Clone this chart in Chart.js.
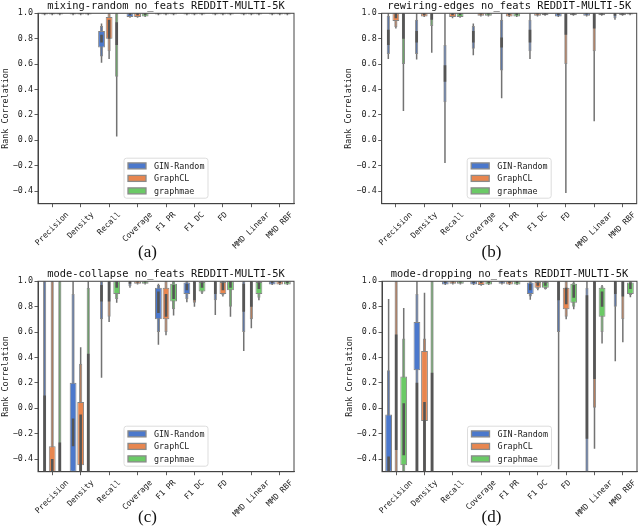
<!DOCTYPE html>
<html><head><meta charset="utf-8">
<script src="https://cdn.jsdelivr.net/npm/chart.js@4.4.1/dist/chart.umd.min.js"></script>
<style>
html,body{margin:0;padding:0;background:#fff;width:640px;height:529px;overflow:hidden;position:relative}
canvas{position:absolute}
.cap{position:absolute;font-family:'Liberation Serif','DejaVu Serif',serif;font-size:17px;color:#111;transform:translate(-50%,-50%);white-space:nowrap}
</style></head><body>
<canvas id="ca" width="320" height="261" style="left:0;top:0"></canvas>
<canvas id="cb" width="320" height="261" style="left:320px;top:0"></canvas>
<canvas id="cc" width="320" height="261" style="left:0;top:268px"></canvas>
<canvas id="cd" width="320" height="261" style="left:320px;top:268px"></canvas>
<div class="cap" style="left:147.5px;top:252px">(a)</div>
<div class="cap" style="left:491.5px;top:252px">(b)</div>
<div class="cap" style="left:147.5px;top:517px">(c)</div>
<div class="cap" style="left:491.5px;top:517px">(d)</div>
<script>
// ---- data ----
const categories = ['Precision','Density','Recall','Coverage','F1 PR','F1 DC','FD','MMD Linear','MMD RBF'];
const seriesNames = ['GIN-Random','GraphCL','graphmae'];
const seriesColors = ['#4b78cc','#e8864f','#6bca66'];
const seriesColorsThin = ['rgba(75,120,204,0.55)','rgba(232,134,79,0.55)','rgba(107,202,102,0.55)'];
const yTicks = [-0.4,-0.2,0.0,0.2,0.4,0.6,0.8,1.0];
const panelTitles = ['mixing-random no_feats REDDIT-MULTI-5K','rewiring-edges no_feats REDDIT-MULTI-5K','mode-collapse no_feats REDDIT-MULTI-5K','mode-dropping no_feats REDDIT-MULTI-5K'];
// each violin: [min, max, midLo, midHi, wideLo, wideHi, q1, q3]
const mixGIN = [[0.985,1,null,null,0.99,1,0.995,1],[0.985,1,null,null,0.99,1,0.995,1],[0.61,0.92,0.66,0.90,0.73,0.86,0.77,0.83],[0.965,1,null,null,0.97,1,0.985,1],[0.985,1,null,null,0.99,1,0.995,1],[0.985,1,null,null,0.99,1,0.995,1],[0.985,1,null,null,0.99,1,0.995,1],[0.985,1,null,null,0.99,1,0.995,1],[0.985,1,null,null,0.99,1,0.995,1]];
const mixGCL = [[0.985,1,null,null,0.99,1,0.995,1],[0.985,1,null,null,0.99,1,0.995,1],[0.64,1.0,0.70,1.0,0.80,0.97,0.80,0.95],[0.965,1,null,null,0.97,1,0.985,1],[0.985,1,null,null,0.99,1,0.995,1],[0.985,1,null,null,0.99,1,0.995,1],[0.985,1,null,null,0.99,1,0.995,1],[0.985,1,null,null,0.99,1,0.995,1],[0.985,1,null,null,0.99,1,0.995,1]];
const mixMAE = [[0.985,1,null,null,0.99,1,0.995,1],[0.985,1,null,null,0.99,1,0.995,1],[0.03,1.0,0.50,1.0,null,null,0.75,0.93],[0.97,1,null,null,0.975,1,0.985,1],[0.985,1,null,null,0.99,1,0.995,1],[0.985,1,null,null,0.99,1,0.995,1],[0.985,1,null,null,0.99,1,0.995,1],[0.985,1,null,null,0.99,1,0.995,1],[0.985,1,null,null,0.99,1,0.995,1]];
const rewGIN = [[0.64,1.0,0.68,0.98,null,null,0.75,0.87],[0.635,1.0,0.68,0.95,null,null,0.77,0.86],[-0.18,1.0,0.30,0.75,null,null,0.46,0.59],[0.67,0.92,0.72,0.90,null,null,0.77,0.86],[0.33,1.0,0.55,0.95,null,null,0.73,0.81],[0.64,1.0,0.70,0.95,null,null,0.77,0.87],[0.97,1,null,null,0.975,1,0.985,1],[0.975,1,null,null,0.98,1,0.99,1],[0.95,1.0,0.96,1.0,null,null,0.98,1.0]];
const rewGCL = [[0.88,1.0,0.89,1.0,0.94,1.0,0.96,1.0],[0.97,1,null,null,0.975,1,0.985,1],[0.96,1,null,null,0.97,1,0.985,1],[0.975,1,null,null,0.98,1,0.99,1],[0.97,1,null,null,0.975,1,0.985,1],[0.975,1,null,null,0.98,1,0.99,1],[-0.415,1.0,0.60,1.0,null,null,0.83,1.0],[0.15,1.0,0.70,1.0,null,null,0.88,1.0],[0.98,1,null,null,0.985,1,0.99,1]];
const rewMAE = [[0.23,1.0,0.60,1.0,null,null,0.80,1.0],[0.69,1.0,0.90,1.0,null,null,0.95,1.0],[0.965,1,null,null,0.97,1,0.985,1],[0.975,1,null,null,0.98,1,0.99,1],[0.97,1,null,null,0.975,1,0.985,1],[0.98,1,null,null,0.985,1,0.99,1],[0.98,1,null,null,0.985,1,0.99,1],[0.98,1,null,null,0.985,1,0.99,1],[0.985,1,null,null,0.99,1,0.995,1]];
const colGIN = [[-0.5,1.0,-0.5,1.0,null,null,-0.5,0.10],[-0.5,1.0,-0.5,0.90,-0.5,0.20,-0.30,-0.08],[0.24,1.0,0.70,1.0,null,null,0.84,0.97],[0.95,1.0,0.96,1.0,null,null,0.98,1.0],[0.50,0.98,0.60,0.97,0.70,0.95,0.75,0.92],[0.835,1.0,0.86,1.0,0.90,0.99,0.93,0.98],[0.735,1.0,0.85,1.0,null,null,0.90,1.0],[0.45,1.0,0.60,1.0,null,null,0.76,0.98],[0.97,1,null,null,0.975,1,0.985,1]];
const colGCL = [[-0.5,1.0,-0.5,1.0,-0.5,-0.30,-0.5,-0.40],[-0.5,0.48,-0.5,0.35,-0.45,0.05,-0.5,-0.05],[0.68,1.0,0.72,1.0,null,null,0.84,1.0],[0.975,1,null,null,0.98,1,0.99,1],[0.575,1.0,0.60,1.0,0.70,0.95,0.72,0.90],[0.80,1.0,0.83,1.0,null,null,0.85,1.0],[0.88,1.0,0.89,1.0,0.90,0.995,0.93,0.99],[0.63,1.0,0.70,1.0,null,null,0.80,1.0],[0.97,1,null,null,0.975,1,0.985,1]];
const colMAE = [[-0.5,1.0,-0.5,1.0,null,null,-0.5,-0.27],[-0.5,1.0,-0.5,0.95,null,null,-0.5,0.43],[0.83,1.0,0.86,1.0,0.90,1.0,0.95,1.0],[0.975,1,null,null,0.98,1,0.99,1],[0.73,1.0,0.78,1.0,0.84,0.98,0.86,0.97],[0.90,1.0,0.91,1.0,0.92,0.995,0.95,0.99],[0.72,1.0,0.80,1.0,0.93,1.0,0.95,1.0],[0.85,1.0,0.87,1.0,0.90,0.995,0.94,0.99],[0.97,1,null,null,0.975,1,0.985,1]];
const dropGIN = [[-0.5,0.86,-0.5,0.30,-0.5,-0.05,-0.5,-0.38],[-0.5,1.0,-0.5,0.90,0.30,0.68,-0.5,0.20],[0.97,1,null,null,0.975,1,0.985,1],[0.97,1,null,null,0.975,1,0.985,1],[0.975,1,null,null,0.98,1,0.99,1],[0.855,1.0,0.88,1.0,0.90,0.99,0.93,0.98],[-0.48,1.0,0.60,1.0,null,null,0.85,1.0],[-0.5,1.0,-0.5,0.95,null,null,-0.24,0.89],[0.37,1.0,0.80,1.0,null,null,0.90,1.0]];
const dropGCL = [[-0.5,1.0,-0.5,1.0,null,null,-0.33,0.58],[-0.5,0.91,-0.5,0.55,-0.10,0.45,-0.5,0.05],[0.975,1,null,null,0.98,1,0.99,1],[0.965,1,null,null,0.97,1,0.985,1],[0.97,1,null,null,0.975,1,0.985,1],[0.93,1.0,0.94,1.0,0.95,0.995,0.965,0.99],[0.70,1.0,0.72,1.0,0.78,0.95,0.82,0.95],[-0.32,1.0,0.0,1.0,null,null,0.23,1.0],[0.52,1.0,0.70,1.0,null,null,0.88,1.0]];
const dropMAE = [[-0.5,0.79,-0.5,0.55,-0.45,0.25,-0.37,0.04],[-0.5,1.0,-0.5,1.0,null,null,-0.5,0.28],[0.975,1,null,null,0.98,1,0.99,1],[0.97,1,null,null,0.975,1,0.985,1],[0.97,1,null,null,0.975,1,0.985,1],[0.935,1.0,0.94,1.0,0.95,0.995,0.965,0.99],[0.78,1.0,0.80,0.99,0.83,0.98,0.87,0.97],[0.51,0.97,0.60,0.96,0.72,0.95,0.80,0.92],[0.875,1.0,0.89,1.0,0.90,0.99,0.94,0.99]];

// ---- rendering ----
const MONO = "'DejaVu Sans Mono', monospace";
function layer(vals, lo, hi){ return vals.map(v => (v[lo] === null ? null : [v[lo], v[hi]])); }
function fmt(v){ return v.toFixed(1).replace('-', '\u2212'); }

const decoPlugin = {
  id: 'deco',
  afterDraw(chart){
    const ctx = chart.ctx, a = chart.chartArea;
    const xs = chart.scales.x;
    ctx.save();
    ctx.strokeStyle = '#444'; ctx.lineWidth = 1;
    ctx.strokeRect(a.left, a.top, a.right - a.left, a.bottom - a.top);
    const lw = 84, lh = 40;
    const lx = (a.left + a.right) / 2 - lw / 2, ly = a.bottom - 5.5 - lh;
    ctx.beginPath();
    if (ctx.roundRect) ctx.roundRect(lx, ly, lw, lh, 2.5); else ctx.rect(lx, ly, lw, lh);
    ctx.fillStyle = 'rgba(255,255,255,0.85)'; ctx.fill();
    ctx.strokeStyle = '#d4d4d4'; ctx.lineWidth = 0.8; ctx.stroke();
    ctx.font = '8.4px ' + MONO; ctx.textBaseline = 'middle'; ctx.textAlign = 'left';
    seriesNames.forEach((n, i) => {
      const cy = ly + 7.7 + i * 12.5;
      ctx.fillStyle = seriesColors[i];
      ctx.fillRect(lx + 4, cy - 3, 18, 6);
      ctx.strokeStyle = '#8a8a8a'; ctx.lineWidth = 1.3;
      ctx.strokeRect(lx + 4, cy - 3, 18, 6);
      ctx.fillStyle = '#222';
      ctx.fillText(n, lx + 30, cy + 0.5);
    });
    ctx.font = '8px ' + MONO; ctx.fillStyle = '#222';
    ctx.textAlign = 'center'; ctx.textBaseline = 'middle';
    categories.forEach((c, i) => {
      const cx = xs.getPixelForValue(i);
      const w = ctx.measureText(c).width, h = 8;
      const cy = a.bottom + 7 + (w + h) * 0.7071 / 2;
      ctx.save(); ctx.translate(cx, cy); ctx.rotate(-Math.PI / 4);
      ctx.fillText(c, 0, 0); ctx.restore();
    });
    ctx.restore();
  }
};

function makeChart(id, title, series, padL, padR){
  const datasets = [];
  series.forEach((vals, s) => {
    const col = seriesColors[s], st = 's' + s;
    datasets.push({label: seriesNames[s] + ' range', data: layer(vals, 0, 1), backgroundColor: '#737373', borderWidth: 0, barPercentage: 0.2, stack: st, order: 4});
    datasets.push({label: seriesNames[s] + ' body', data: layer(vals, 2, 3), backgroundColor: seriesColorsThin[s], borderColor: '#8a8a8a', borderWidth: 1, borderSkipped: false, barPercentage: 0.42, stack: st, order: 3});
    datasets.push({label: seriesNames[s] + ' core', data: layer(vals, 4, 5), backgroundColor: col, borderColor: '#858585', borderWidth: 1, borderSkipped: false, barPercentage: 0.9, stack: st, order: 2});
    datasets.push({label: seriesNames[s] + ' box', data: layer(vals, 6, 7), backgroundColor: '#555555', borderWidth: 0, barPercentage: 0.34, stack: st, order: 1});
  });
  return new Chart(document.getElementById(id), {
    type: 'bar',
    data: {labels: categories, datasets},
    plugins: [decoPlugin],
    options: {
      responsive: false, animation: false, devicePixelRatio: 1,
      layout: {padding: {left: padL, right: padR, top: 0, bottom: 0}},
      datasets: {bar: {categoryPercentage: 0.8, skipNull: false}},
      plugins: {
        legend: {display: false}, tooltip: {enabled: false},
        title: {display: true, text: title, fullSize: false, color: '#111',
          font: {family: MONO, size: 10.4, weight: 'normal', lineHeight: 1.2}, padding: {top: 0, bottom: 0.8}}
      },
      scales: {
        x: {type: 'category', stacked: true, offset: true,
          grid: {display: true, drawOnChartArea: false, drawTicks: true, tickLength: 3.5, offset: false, color: '#333', lineWidth: 0.8},
          border: {display: true, color: '#444', width: 1},
          ticks: {display: false},
          afterFit: sc => { sc.height = 57.3; }},
        y: {type: 'linear', min: -0.5, max: 1.0, stacked: false,
          afterBuildTicks: sc => { sc.ticks = yTicks.map(v => ({value: v})); },
          grid: {display: true, drawOnChartArea: false, drawTicks: true, tickLength: 3.5, color: '#333', lineWidth: 0.8},
          border: {display: true, color: '#444', width: 1},
          ticks: {font: {family: MONO, size: 8.4}, color: '#222', padding: 1.5, callback: v => fmt(v)},
          title: {display: true, text: 'Rank Correlation', color: '#222', font: {family: MONO, size: 8.4, lineHeight: 1.2}, padding: {top: 0.5, bottom: 0}},
          afterFit: sc => { sc.width = 38; }}
      }
    }
  });
}

makeChart('ca', panelTitles[0], [mixGIN, mixGCL, mixMAE], 0, 26);
makeChart('cb', panelTitles[1], [rewGIN, rewGCL, rewMAE], 23.7, 3.3);
makeChart('cc', panelTitles[2], [colGIN, colGCL, colMAE], 0, 26);
makeChart('cd', panelTitles[3], [dropGIN, dropGCL, dropMAE], 24, 3);
</script>
</body></html>
